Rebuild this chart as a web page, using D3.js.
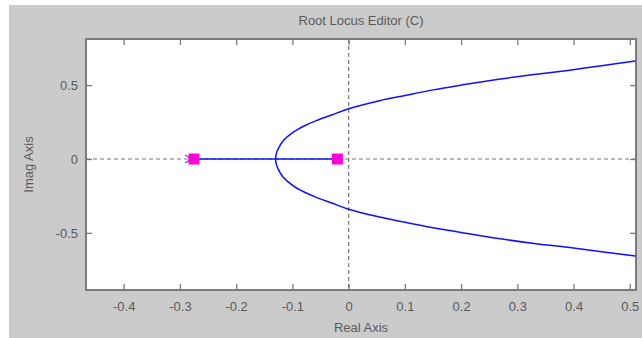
<!DOCTYPE html>
<html><head><meta charset="utf-8">
<script src="https://cdn.jsdelivr.net/npm/d3@7"></script>
<style>body{margin:0;background:#fff;}svg{display:block;font-family:"Liberation Sans",Arial,sans-serif;}</style>
</head><body>
<svg id="c" width="642" height="338"></svg>
<script>
// Data
const xTicks = [-0.4,-0.3,-0.2,-0.1,0,0.1,0.2,0.3,0.4,0.5];
const yTicks = [-0.5,0,0.5];
const realSegment = [-0.275,-0.02];           // locus on real axis
const closedLoopPoles = [-0.275,-0.02];       // magenta squares
const openLoopPole = [-0.28];                 // partially hidden x marker
const branchReal = [-0.13,-0.129,-0.125,-0.117,-0.099,-0.08,-0.0575,-0.03,0,0.055,0.1,0.15,0.2,0.27,0.33,0.39,0.45,0.51];
const branchUpper = [0,0.03,0.07,0.12,0.18,0.222,0.26,0.298,0.34,0.395,0.43,0.468,0.50,0.542,0.572,0.60,0.632,0.663];
const branchLower = [0,-0.03,-0.07,-0.12,-0.18,-0.222,-0.26,-0.298,-0.34,-0.393,-0.428,-0.465,-0.497,-0.54,-0.572,-0.598,-0.628,-0.657];

const svg = d3.select("#c");
const L=86, R=636, T=39, B=290;
const x = d3.scaleLinear().domain([-0.467,0.511]).range([L,R]);
const y = d3.scaleLinear().domain([-0.887,0.8125]).range([B,T]);
const txt = "#5a5a5a", axc = "#7a7a7a";

svg.append("rect").attr("x",9).attr("y",5).attr("width",633).attr("height",333).attr("fill","#cbcbcb");
svg.append("rect").attr("x",L).attr("y",T).attr("width",R-L).attr("height",B-T).attr("fill","#fff");

// title and labels
svg.append("text").attr("x",(L+R)/2).attr("y",25).attr("text-anchor","middle").attr("font-size",13).attr("fill",txt).text("Root Locus Editor (C)");
svg.append("text").attr("x",(L+R)/2).attr("y",332).attr("text-anchor","middle").attr("font-size",13).attr("fill",txt).text("Real Axis");
svg.append("text").attr("transform",`translate(33,${(T+B)/2}) rotate(-90)`).attr("text-anchor","middle").attr("font-size",13).attr("fill",txt).text("Imag Axis");

// axes
const fmt = d => d===0 ? "0" : String(d);
const gxB = svg.append("g").attr("transform",`translate(0,${B})`).call(d3.axisBottom(x).tickValues(xTicks).tickFormat(fmt).tickSizeInner(-6).tickSizeOuter(0).tickPadding(12));
const gxT = svg.append("g").attr("transform",`translate(0,${T})`).call(d3.axisTop(x).tickValues(xTicks).tickFormat("").tickSizeInner(-6).tickSizeOuter(0));
const gyL = svg.append("g").attr("transform",`translate(${L},0)`).call(d3.axisLeft(y).tickValues(yTicks).tickFormat(fmt).tickSizeInner(-6).tickSizeOuter(0).tickPadding(8));
const gyR = svg.append("g").attr("transform",`translate(${R},0)`).call(d3.axisRight(y).tickValues(yTicks).tickFormat("").tickSizeInner(-6).tickSizeOuter(0));
[gxB,gxT,gyL,gyR].forEach(g=>{
  g.select(".domain").remove();
  g.selectAll("line").attr("stroke",axc).attr("stroke-width",1.3);
  g.selectAll("text").attr("fill",txt).attr("font-size",13).attr("font-family","Liberation Sans, Arial, sans-serif");
});

// zero lines
svg.append("line").attr("x1",L).attr("x2",R).attr("y1",y(0)).attr("y2",y(0)).attr("stroke","#777").attr("stroke-width",1.2).attr("stroke-dasharray","4,3");
svg.append("line").attr("x1",x(0)).attr("x2",x(0)).attr("y1",T).attr("y2",B).attr("stroke","#777").attr("stroke-width",1.2).attr("stroke-dasharray","4,3");

// border
svg.append("rect").attr("x",L).attr("y",T).attr("width",R-L).attr("height",B-T).attr("fill","none").attr("stroke",axc).attr("stroke-width",2);

// locus
const line = d3.line().x(d=>x(d[0])).y(d=>y(d[1])).curve(d3.curveCatmullRom.alpha(0.5));
const blue = "#1010ff";
svg.append("path").attr("d",line(realSegment.map(v=>[v,0]))).attr("stroke",blue).attr("stroke-width",1.6).attr("fill","none");
svg.append("path").attr("d",line(branchReal.map((v,i)=>[v,branchUpper[i]]))).attr("stroke",blue).attr("stroke-width",1.5).attr("fill","none");
svg.append("path").attr("d",line(branchReal.map((v,i)=>[v,branchLower[i]]))).attr("stroke",blue).attr("stroke-width",1.5).attr("fill","none");

// open loop pole marker (partially hidden x)
openLoopPole.forEach(p=>{
  const cx=x(p), cy=y(0);
  svg.append("path").attr("d",`M${cx-6},${cy-4}L${cx},${cy}L${cx-6},${cy+4}`).attr("stroke","#4a5ad0").attr("stroke-width",1.2).attr("fill","none");
});

// closed loop poles
svg.selectAll("rect.cl").data(closedLoopPoles).enter().append("rect").attr("class","cl")
  .attr("x",d=>x(d)-5.5).attr("y",y(0)-5.5).attr("width",11).attr("height",11).attr("fill","#ff00d8");
</script>
</body></html>
